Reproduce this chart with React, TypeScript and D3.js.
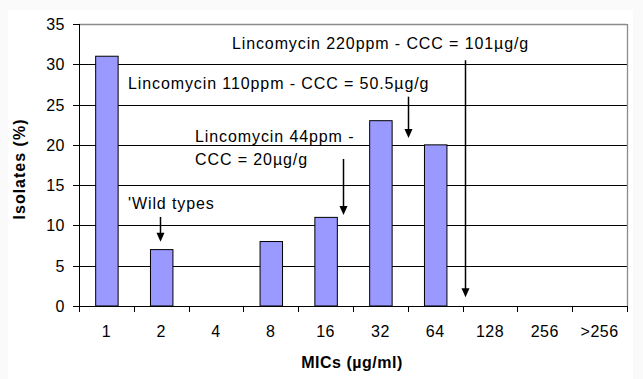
import React from "react";
import * as d3 from "d3";

const categories = ["1", "2", "4", "8", "16", "32", "64", "128", "256", ">256"];
const isolates = [31, 7, 0, 8, 11, 23, 20, 0, 0, 0];
const yTicks = [0, 5, 10, 15, 20, 25, 30, 35];

// Annotation texts (x in category units from the left axis, y in % units = baseline)
const noteTexts = [
  "Lincomycin 220ppm - CCC = 101µg/g",
  "Lincomycin 110ppm - CCC = 50.5µg/g",
  "Lincomycin 44ppm -",
  "CCC = 20µg/g",
  "'Wild types",
];
const noteX = [2.79, 0.894, 2.117, 2.117, 0.894];
const noteY = [31.9, 26.93, 20.35, 17.5, 12.1];

// Arrows: x in category units, start / tip in % units
const arrowX = [7.04, 6.0, 4.81, 1.48];
const arrowFrom = [30.5, 25.98, 18.25, 11.05];
const arrowTo = [1.1, 20.85, 11.3, 7.98];

const W = 643;
const H = 379;
const left = 79;
const right = 627;
const top = 24;
const bottom = 306;

export default function App() {
  const x = d3.scaleBand<string>().domain(categories).range([left, right]).padding(0);
  const step = x.step();
  const u = d3.scaleLinear().domain([0, categories.length]).range([left, right]);
  const y = d3.scaleLinear().domain([0, 35]).range([bottom, top]);
  const barW = step * 0.41;
  const font = "Arial, 'Liberation Sans', sans-serif";

  return (
    <svg
      width={W}
      height={H}
      style={{ position: "absolute", left: 0, top: 0, background: "#fafafa" }}
      fontFamily={font}
    >
      <rect x={8} y={10} width={625} height={H - 10} fill="#ffffff" />

      {/* gridlines */}
      {yTicks.filter((t) => t > 0 && t < 35).map((t) => (
        <line key={t} x1={left} x2={right} y1={Math.round(y(t)) + 0.5} y2={Math.round(y(t)) + 0.5} stroke="#000" strokeWidth={1} />
      ))}
      {/* plot border top and right */}
      <line x1={left} x2={right} y1={top + 0.5} y2={top + 0.5} stroke="#8c8c8c" strokeWidth={1.3} />
      <line x1={right + 0.5} x2={right + 0.5} y1={top} y2={bottom} stroke="#8c8c8c" strokeWidth={1.3} />

      {/* bars */}
      {isolates.map((v, i) =>
        v > 0 ? (
          <rect
            key={i}
            x={x(categories[i])! + step / 2 - barW / 2 + 0.5}
            y={y(v)}
            width={barW}
            height={y(0) - y(v)}
            fill="#9999ff"
            stroke="#000"
            strokeWidth={1}
          />
        ) : null
      )}

      {/* y axis */}
      <line x1={left + 0.5} x2={left + 0.5} y1={top} y2={bottom + 0.5} stroke="#000" strokeWidth={1} />
      {yTicks.map((t) => (
        <g key={t}>
          <line x1={left - 6} x2={left} y1={Math.round(y(t)) + 0.5} y2={Math.round(y(t)) + 0.5} stroke="#000" />
          <text x={65} y={y(t) + 6} textAnchor="end" fontSize={16} letterSpacing={0.5} fill="#000">
            {t}
          </text>
        </g>
      ))}

      {/* x axis */}
      <line x1={left} x2={right + 1} y1={bottom + 0.5} y2={bottom + 0.5} stroke="#000" strokeWidth={1} />
      {d3.range(categories.length + 1).map((i) => (
        <line key={i} x1={Math.round(u(i)) + 0.5} x2={Math.round(u(i)) + 0.5} y1={bottom} y2={bottom + 6} stroke="#000" />
      ))}
      {categories.map((c) => (
        <text key={c} x={x(c)! + step / 2} y={337} textAnchor="middle" fontSize={16} letterSpacing={0.5} fill="#000">
          {c}
        </text>
      ))}

      {/* axis titles */}
      <text x={352} y={367.5} textAnchor="middle" fontSize={16} fontWeight="bold" letterSpacing={0.5} fill="#000">
        MICs (µg/ml)
      </text>
      <text
        transform="translate(25,169) rotate(-90)"
        textAnchor="middle"
        fontSize={16}
        fontWeight="bold"
        letterSpacing={1}
        fill="#000"
      >
        Isolates (%)
      </text>

      {/* annotations */}
      {noteTexts.map((t, i) => (
        <text key={i} x={u(noteX[i])} y={y(noteY[i])} fontSize={16} letterSpacing={0.9} fill="#000">
          {t}
        </text>
      ))}
      {arrowX.map((ax, i) => {
        const px = Math.round(u(ax)) + 0.5;
        const y0 = y(arrowFrom[i]);
        const y1 = y(arrowTo[i]);
        return (
          <g key={i}>
            <line x1={px} x2={px} y1={y0} y2={y1 - 8} stroke="#000" strokeWidth={1.5} />
            <path d={`M${px - 4},${y1 - 9} L${px + 4},${y1 - 9} L${px},${y1} Z`} fill="#000" />
          </g>
        );
      })}
    </svg>
  );
}
